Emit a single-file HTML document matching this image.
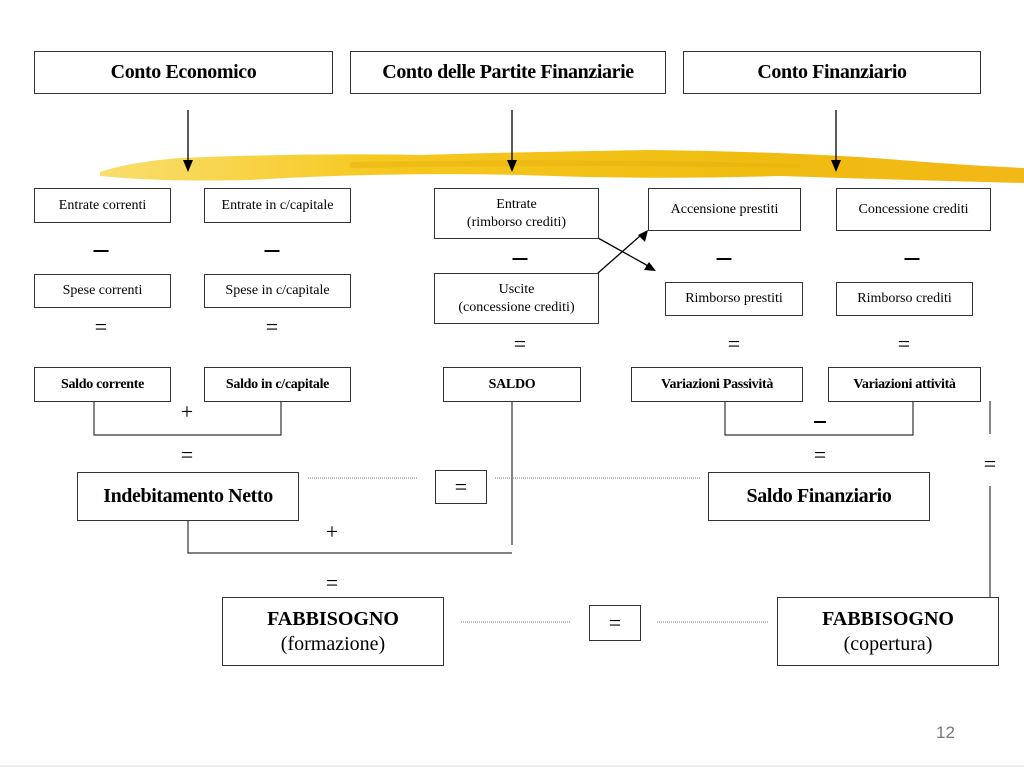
<!DOCTYPE html>
<html><head><meta charset="utf-8"><style>
body{margin:0;width:1024px;height:768px;background:#fff;position:relative;overflow:hidden;font-family:"Liberation Serif",serif;color:#000}
.b{position:absolute;border:1px solid #333;box-sizing:border-box;display:flex;align-items:center;justify-content:center;text-align:center;line-height:1.25;background:#fff}
.t{font-weight:bold;font-size:20px;letter-spacing:-0.4px}
.s{font-size:14px}
.sb{font-size:14px;font-weight:bold;letter-spacing:-0.3px}
.g{position:absolute;font-size:22px;transform:translate(-50%,-50%);line-height:1}
.m{position:absolute;width:15px;height:2px;background:#000;transform:translate(-50%,-50%)}
</style></head><body>
<svg width="1024" height="768" style="position:absolute;left:0;top:0">
<defs><linearGradient id="y" x1="0" x2="1"><stop offset="0" stop-color="#f7d030" stop-opacity="0.7"/><stop offset="0.3" stop-color="#f6c820"/><stop offset="0.7" stop-color="#f0bc10"/><stop offset="1" stop-color="#f2b818"/></linearGradient></defs>
<path d="M100 172 Q130 162 180 158 Q300 153 420 155 Q520 152 650 150 Q800 152 900 160 Q960 165 1024 168 L1024 183 Q900 180 780 176 Q650 180 520 175 Q380 172 250 180 Q160 182 100 176 Z" fill="url(#y)"/>
<path d="M350 162 Q600 158 800 164 L800 168 Q600 164 350 168Z" fill="#e8b010" opacity=".5"/>
<g stroke="#000" stroke-width="1.3" fill="none">
<line x1="188" y1="110" x2="188" y2="162"/><line x1="512" y1="110" x2="512" y2="162"/><line x1="836" y1="110" x2="836" y2="162"/>
<line x1="598" y1="238" x2="650" y2="267"/><line x1="598" y1="273" x2="640" y2="236"/>
</g>
<g fill="#000">
<polygon points="183,160 193,160 188,172"/><polygon points="507,160 517,160 512,172"/><polygon points="831,160 841,160 836,172"/>
<polygon points="656,271 644,270 649,262"/><polygon points="648,230 645,242 638,235"/>
</g>
<g stroke="#333" stroke-width="1.2" fill="none">
<polyline points="94,401 94,435 281,435 281,401"/>
<polyline points="725,401 725,435 913,435 913,401"/>
<line x1="512" y1="401" x2="512" y2="545"/>
<polyline points="188,520 188,553 512,553"/>
<line x1="990" y1="401" x2="990" y2="434"/><line x1="990" y1="486" x2="990" y2="597"/>
</g>
<g stroke="#777" stroke-width="1" stroke-dasharray="1,1">
<line x1="308" y1="478" x2="418" y2="478"/><line x1="495" y1="478" x2="700" y2="478"/>
<line x1="461" y1="622" x2="571" y2="622"/><line x1="657" y1="622" x2="768" y2="622"/>
</g>
<line x1="0" y1="766" x2="1024" y2="766" stroke="#ddd"/>
</svg>
<div class="b t" style="left:34px;top:51px;width:299px;height:43px">Conto Economico</div>
<div class="b t" style="left:350px;top:51px;width:316px;height:43px">Conto delle Partite Finanziarie</div>
<div class="b t" style="left:683px;top:51px;width:298px;height:43px">Conto Finanziario</div>

<div class="b s" style="left:34px;top:188px;width:137px;height:35px">Entrate correnti</div>
<div class="b s" style="left:204px;top:188px;width:147px;height:35px">Entrate in c/capitale</div>
<div class="b s" style="left:434px;top:188px;width:165px;height:51px">Entrate<br>(rimborso crediti)</div>
<div class="b s" style="left:648px;top:188px;width:153px;height:43px">Accensione prestiti</div>
<div class="b s" style="left:836px;top:188px;width:155px;height:43px">Concessione crediti</div>

<div class="b s" style="left:34px;top:274px;width:137px;height:34px">Spese correnti</div>
<div class="b s" style="left:204px;top:274px;width:147px;height:34px">Spese in c/capitale</div>
<div class="b s" style="left:434px;top:273px;width:165px;height:51px">Uscite<br>(concessione crediti)</div>
<div class="b s" style="left:665px;top:282px;width:138px;height:34px">Rimborso prestiti</div>
<div class="b s" style="left:836px;top:282px;width:137px;height:34px">Rimborso crediti</div>

<div class="b sb" style="left:34px;top:367px;width:137px;height:35px">Saldo corrente</div>
<div class="b sb" style="left:204px;top:367px;width:147px;height:35px">Saldo in c/capitale</div>
<div class="b sb" style="left:443px;top:367px;width:138px;height:35px">SALDO</div>
<div class="b sb" style="left:631px;top:367px;width:172px;height:35px">Variazioni Passività</div>
<div class="b sb" style="left:828px;top:367px;width:153px;height:35px">Variazioni attività</div>

<div class="b t" style="left:77px;top:472px;width:222px;height:49px">Indebitamento Netto</div>
<div class="b t" style="left:708px;top:472px;width:222px;height:49px">Saldo Finanziario</div>
<div class="b" style="left:435px;top:470px;width:52px;height:34px;font-size:22px">=</div>
<div class="b" style="left:222px;top:597px;width:222px;height:69px;font-size:20px"><span><b>FABBISOGNO</b><br>(formazione)</span></div>
<div class="b" style="left:777px;top:597px;width:222px;height:69px;font-size:20px"><span><b>FABBISOGNO</b><br>(copertura)</span></div>
<div class="b" style="left:589px;top:605px;width:52px;height:36px;font-size:22px">=</div>

<div class="m" style="left:101px;top:251px"></div><div class="m" style="left:272px;top:251px"></div>
<div class="m" style="left:520px;top:259px"></div><div class="m" style="left:724px;top:259px"></div><div class="m" style="left:912px;top:259px"></div>
<div class="g" style="left:101px;top:327px">=</div><div class="g" style="left:272px;top:327px">=</div>
<div class="g" style="left:520px;top:344px">=</div><div class="g" style="left:734px;top:344px">=</div><div class="g" style="left:904px;top:344px">=</div>
<div class="g" style="left:187px;top:412px">+</div>
<div class="m" style="left:820px;top:422px;width:12px"></div>
<div class="g" style="left:187px;top:455px">=</div><div class="g" style="left:820px;top:455px">=</div>
<div class="g" style="left:990px;top:464px">=</div>
<div class="g" style="left:332px;top:532px">+</div>
<div class="g" style="left:332px;top:583px">=</div>
<div style="position:absolute;left:936px;top:723px;font-family:'Liberation Sans',sans-serif;font-size:17px;color:#777">12</div>
</body></html>
